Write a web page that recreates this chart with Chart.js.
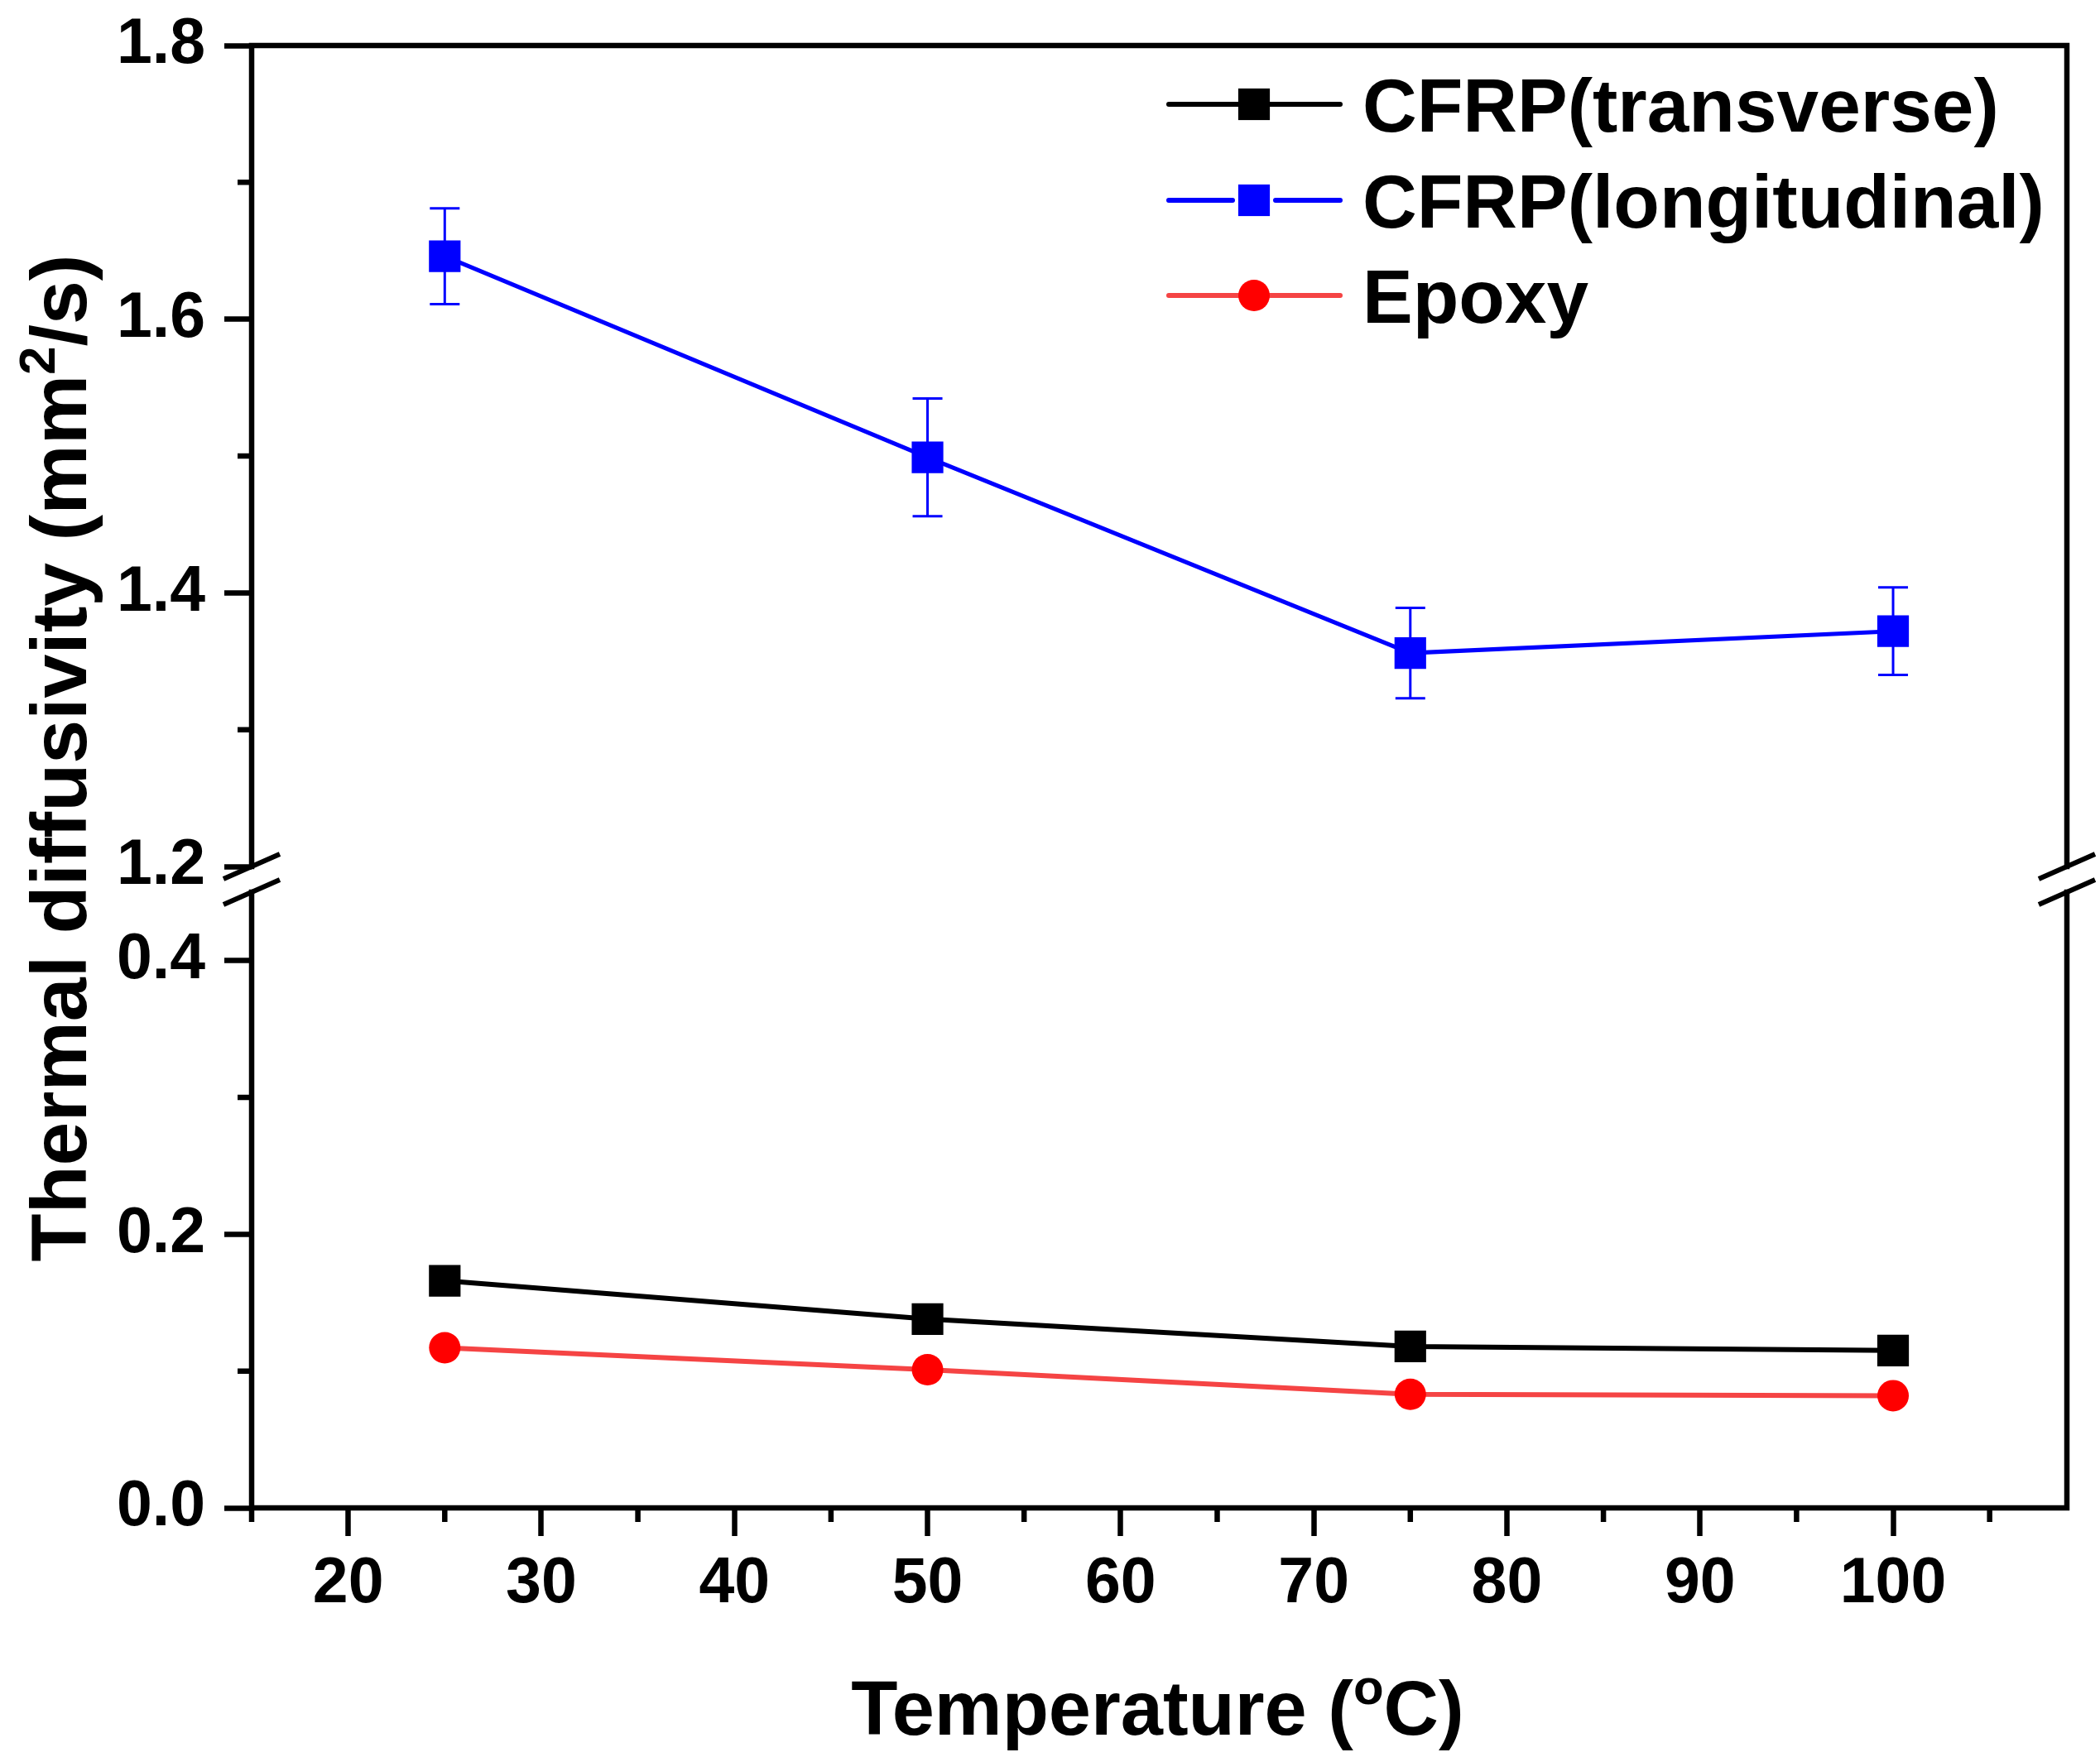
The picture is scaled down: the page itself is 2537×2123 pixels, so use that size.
<!DOCTYPE html>
<html>
<head>
<meta charset="utf-8">
<script src="https://cdn.jsdelivr.net/npm/chart.js@4.4.1/dist/chart.umd.min.js"></script>
<style>
html,body{margin:0;padding:0;background:#ffffff;overflow:hidden}
canvas{display:block}
</style>
</head>
<body>
<canvas id="c" width="2537" height="2123"></canvas>
<script>
// ---------------- data ----------------
const temperatures = [25, 50, 75, 100];
const cfrpTransverse = [0.166, 0.138, 0.118, 0.115];
const cfrpLongitudinal = [1.646, 1.499, 1.356, 1.372];
const cfrpLongitudinalErr = [0.035, 0.043, 0.033, 0.032];
const epoxy = [0.117, 0.101, 0.083, 0.082];
const seriesLabels = ['CFRP(transverse)', 'CFRP(longitudinal)', 'Epoxy'];

const xMajorTicks = [20, 30, 40, 50, 60, 70, 80, 90, 100];
const xMinorTicks = [15, 25, 35, 45, 55, 65, 75, 85, 95, 105];
const yLowMajorTicks = [0.0, 0.2, 0.4];
const yLowMinorTicks = [0.1, 0.3];
const yHighMajorTicks = [1.2, 1.4, 1.6, 1.8];
const yHighMinorTicks = [1.3, 1.5, 1.7];

const xTitleParts = [['Temperature (', false], ['o', true], ['C)', false]];
const yTitleParts = [['Thermal diffusivity (mm', false], ['2', true], ['/s)', false]];

// ---------------- styling ----------------
const FONT = '"Liberation Sans", Arial, Helvetica, sans-serif';
const AXIS_LW = 6.5;
const X_MIN = 15, X_MAX = 109;
const LOW_MIN = 0, LOW_MAX = 0.4687, LOW_BREAK = 0.45;
const HIGH_MIN = 1.2, HIGH_MAX = 1.8;

function pts(ys) { return temperatures.map((x, i) => ({x: x, y: ys[i]})); }

function drawMarker(ctx, style, x, y, r, color) {
  ctx.fillStyle = color;
  if (style === 'rect') {
    const s = r * Math.SQRT1_2;
    ctx.fillRect(x - s, y - s, 2 * s, 2 * s);
  } else {
    ctx.beginPath();
    ctx.arc(x, y, r, 0, Math.PI * 2);
    ctx.fill();
  }
}

function drawMixed(ctx, parts, mainSize, supSize, supRaise) {
  let total = 0;
  const widths = parts.map(p => {
    ctx.font = 'bold ' + (p[1] ? supSize : mainSize) + 'px ' + FONT;
    const w = ctx.measureText(p[0]).width;
    total += w;
    return w;
  });
  let x = -total / 2;
  ctx.textAlign = 'left';
  ctx.textBaseline = 'alphabetic';
  parts.forEach((p, i) => {
    ctx.font = 'bold ' + (p[1] ? supSize : mainSize) + 'px ' + FONT;
    ctx.fillText(p[0], x, p[1] ? -supRaise : 0);
    x += widths[i];
  });
}

function noPad(s) {
  s.paddingTop = 0; s.paddingBottom = 0; s.paddingLeft = 0; s.paddingRight = 0;
}

const decorPlugin = {
  id: 'decor',
  beforeDatasetsDraw(chart) {
    const ctx = chart.ctx;
    const xs = chart.scales.x, yh = chart.scales.yHigh;
    ctx.save();
    ctx.strokeStyle = '#0000FF';
    ctx.lineWidth = 3;
    temperatures.forEach((t, i) => {
      const px = xs.getPixelForValue(t);
      const top = yh.getPixelForValue(cfrpLongitudinal[i] + cfrpLongitudinalErr[i]);
      const bot = yh.getPixelForValue(cfrpLongitudinal[i] - cfrpLongitudinalErr[i]);
      ctx.beginPath();
      ctx.moveTo(px, top); ctx.lineTo(px, bot);
      ctx.moveTo(px - 18, top); ctx.lineTo(px + 18, top);
      ctx.moveTo(px - 18, bot); ctx.lineTo(px + 18, bot);
      ctx.stroke();
    });
    ctx.restore();
  },
  afterDraw(chart) {
    const ctx = chart.ctx;
    const a = chart.chartArea;
    const xs = chart.scales.x, yl = chart.scales.yLow, yh = chart.scales.yHigh;
    const yBreakTop = yh.getPixelForValue(HIGH_MIN);
    const yBreakBot = yl.getPixelForValue(LOW_BREAK);
    ctx.save();
    ctx.strokeStyle = '#000';
    ctx.lineWidth = AXIS_LW;
    ctx.lineCap = 'square';
    ctx.beginPath();
    ctx.moveTo(a.left, a.top); ctx.lineTo(a.right, a.top);
    ctx.moveTo(a.left, a.bottom); ctx.lineTo(a.right, a.bottom);
    [a.left, a.right].forEach(x => {
      ctx.moveTo(x, a.top); ctx.lineTo(x, yBreakTop);
      ctx.moveTo(x, yBreakBot); ctx.lineTo(x, a.bottom);
    });
    ctx.stroke();
    ctx.lineCap = 'butt';
    ctx.lineWidth = 6;
    ctx.beginPath();
    [a.left, a.right].forEach(x => {
      [yBreakTop, yBreakBot].forEach(y => {
        ctx.moveTo(x - 34, y + 15); ctx.lineTo(x + 34, y - 15);
      });
    });
    ctx.stroke();
    ctx.lineWidth = AXIS_LW;
    ctx.beginPath();
    xMinorTicks.forEach(v => {
      const px = xs.getPixelForValue(v);
      ctx.moveTo(px, a.bottom); ctx.lineTo(px, a.bottom + 17);
    });
    yLowMinorTicks.forEach(v => {
      const py = yl.getPixelForValue(v);
      ctx.moveTo(a.left, py); ctx.lineTo(a.left - 17, py);
    });
    yHighMinorTicks.forEach(v => {
      const py = yh.getPixelForValue(v);
      ctx.moveTo(a.left, py); ctx.lineTo(a.left - 17, py);
    });
    ctx.stroke();

    ctx.fillStyle = '#000';
    ctx.save();
    ctx.translate((a.left + a.right) / 2 - 2, 2096);
    drawMixed(ctx, xTitleParts, 92, 60, 37);
    ctx.restore();
    ctx.save();
    ctx.translate(104, 916);
    ctx.rotate(-Math.PI / 2);
    drawMixed(ctx, yTitleParts, 95, 62, 38);
    ctx.restore();

    const rows = [126, 242, 357];
    const lx1 = 1412, lx2 = 1619, mx = 1515, tx = 1646;
    chart.data.datasets.forEach((ds, i) => {
      const y = rows[i];
      ctx.strokeStyle = ds.borderColor;
      ctx.lineWidth = 6;
      ctx.lineCap = 'round';
      ctx.beginPath();
      if (ds.legendGap) {
        ctx.moveTo(lx1, y); ctx.lineTo(mx - 26, y);
        ctx.moveTo(mx + 26, y); ctx.lineTo(lx2, y);
      } else {
        ctx.moveTo(lx1, y); ctx.lineTo(lx2, y);
      }
      ctx.stroke();
      drawMarker(ctx, ds.pointStyle, mx, y, ds.pointRadius, ds.pointBackgroundColor);
      ctx.fillStyle = '#000';
      ctx.font = 'bold 91px ' + FONT;
      ctx.textAlign = 'left';
      ctx.textBaseline = 'alphabetic';
      ctx.fillText(ds.label, tx, y + 33);
    });
    ctx.restore();
  }
};

const tickFont = {family: FONT, size: 77, weight: 'bold'};

new Chart(document.getElementById('c'), {
  type: 'line',
  data: {
    datasets: [
      {
        label: seriesLabels[0], data: pts(cfrpTransverse), yAxisID: 'yLow',
        borderColor: '#000000', borderWidth: 6,
        pointStyle: 'rect', pointRadius: 27, pointBackgroundColor: '#000000', pointBorderWidth: 0
      },
      {
        label: seriesLabels[1], data: pts(cfrpLongitudinal), yAxisID: 'yHigh',
        borderColor: '#0000FF', borderWidth: 5, legendGap: true,
        pointStyle: 'rect', pointRadius: 27, pointBackgroundColor: '#0000FF', pointBorderWidth: 0
      },
      {
        label: seriesLabels[2], data: pts(epoxy), yAxisID: 'yLow',
        borderColor: '#F54444', borderWidth: 6,
        pointStyle: 'circle', pointRadius: 19, pointBackgroundColor: '#FF0000', pointBorderWidth: 0
      }
    ]
  },
  options: {
    responsive: false,
    animation: false,
    devicePixelRatio: 1,
    layout: {padding: {top: 55, right: 40, bottom: 0, left: 0}},
    plugins: {legend: {display: false}, tooltip: {enabled: false}},
    elements: {line: {tension: 0}},
    scales: {
      x: {
        type: 'linear', position: 'bottom', min: X_MIN, max: X_MAX,
        afterBuildTicks: s => { s.ticks = xMajorTicks.map(v => ({value: v})); },
        afterFit: s => { s.height = 301; noPad(s); },
        ticks: {font: tickFont, color: '#000', padding: 13, autoSkip: false, maxRotation: 0,
                callback: v => String(v)},
        grid: {drawOnChartArea: false, drawTicks: true, tickLength: 34, tickWidth: AXIS_LW, tickColor: '#000'},
        border: {display: false}
      },
      yLow: {
        type: 'linear', position: 'left', stack: 'ybreak', stackWeight: LOW_MAX - LOW_MIN, weight: 1,
        min: LOW_MIN, max: LOW_MAX,
        afterBuildTicks: s => { s.ticks = yLowMajorTicks.map(v => ({value: v})); },
        afterFit: s => { s.width = 304; noPad(s); },
        ticks: {font: tickFont, color: '#000', padding: 23, autoSkip: false,
                callback: v => Number(v).toFixed(1)},
        grid: {drawOnChartArea: false, drawTicks: true, tickLength: 33, tickWidth: AXIS_LW, tickColor: '#000'},
        border: {display: false}
      },
      yHigh: {
        type: 'linear', position: 'left', stack: 'ybreak', stackWeight: HIGH_MAX - HIGH_MIN, weight: 2,
        min: HIGH_MIN, max: HIGH_MAX,
        afterBuildTicks: s => { s.ticks = yHighMajorTicks.map(v => ({value: v})); },
        afterFit: s => { s.width = 304; noPad(s); },
        ticks: {font: tickFont, color: '#000', padding: 23, autoSkip: false,
                callback: v => Number(v).toFixed(1)},
        grid: {drawOnChartArea: false, drawTicks: true, tickLength: 33, tickWidth: AXIS_LW, tickColor: '#000'},
        border: {display: false}
      }
    }
  },
  plugins: [decorPlugin]
});
</script>
</body>
</html>
